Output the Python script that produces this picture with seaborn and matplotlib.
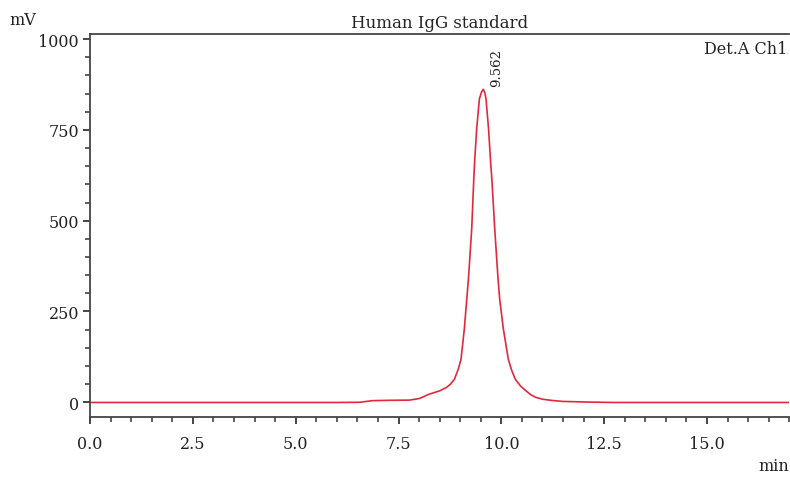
import matplotlib
matplotlib.use("Agg")
import matplotlib.pyplot as plt
from matplotlib.ticker import MultipleLocator
import pandas as pd
import seaborn as sns

# chromatogram (min, mV)
time_min = [0.0, 1.0, 2.0, 3.0, 4.0, 5.0, 6.0, 6.55, 6.87, 7.3, 7.77, 8.01, 8.25, 8.5,
            8.66, 8.76, 8.86, 8.95, 9.02, 9.10, 9.16, 9.20, 9.28, 9.33, 9.35, 9.40,
            9.466, 9.52, 9.562, 9.60, 9.628, 9.69, 9.74, 9.77, 9.84, 9.92, 9.96,
            10.05, 10.17, 10.25, 10.34, 10.47, 10.6, 10.72, 10.84, 11.0, 11.2,
            11.48, 11.97, 12.7, 14.0, 15.5, 17.0]
signal_mv = [-1, -1, -1, -1, -1, -1, -1, -0.5, 4, 5, 5.5, 10, 22, 31,
             40, 49, 63, 90, 118, 201, 284, 339, 477, 614, 660, 752,
             835, 855, 862, 852, 835, 752, 660, 614, 477, 339, 284,
             201, 118, 88, 63, 44, 31, 20, 13, 8, 5,
             2, 0.5, -1, -1, -1, -1]
peak_rt = 9.562
peak_height = 862

df = pd.DataFrame({"min": time_min, "mV": signal_mv})

sns.set_style("ticks")
plt.rcParams["font.family"] = ["DejaVu Serif", "Liberation Serif"]

fig = plt.figure(figsize=(7.9, 4.81), dpi=100)
ax = fig.add_axes([0.114, 0.131, 0.885, 0.796])

sns.lineplot(data=df, x="min", y="mV", ax=ax, color="#e2283c", linewidth=1.2)

ax.set_xlim(0, 17)
ax.set_ylim(-41, 1014)
ax.xaxis.set_major_locator(MultipleLocator(2.5))
ax.xaxis.set_minor_locator(MultipleLocator(0.5))
ax.yaxis.set_major_locator(MultipleLocator(250))
ax.yaxis.set_minor_locator(MultipleLocator(50))
ax.set_xticklabels([f"{v:.1f}" for v in ax.get_xticks()])
ax.set_xlim(0, 17)

axis_col = "#444444"
for side in ["left", "bottom", "top"]:
    ax.spines[side].set_color(axis_col)
    ax.spines[side].set_linewidth(1.3)
ax.spines["right"].set_visible(False)
ax.tick_params(which="major", direction="out", length=5, width=1.4, color=axis_col,
               labelsize=11.5, pad=3, labelcolor="#222222")
ax.tick_params(which="minor", direction="out", length=3.5, width=1.2, color=axis_col)
ax.tick_params(axis="x", pad=8)

ax.set_xlabel("")
ax.set_ylabel("")
ax.set_title("Human IgG standard", fontsize=12, color="#222222", pad=5)
fig.text(0.012, 0.94, "mV", fontsize=11.5, color="#222222", ha="left", va="bottom")
fig.text(0.999, 0.012, "min", fontsize=11.5, color="#222222", ha="right", va="bottom")
ax.text(0.998, 0.985, "Det.A Ch1", transform=ax.transAxes, fontsize=11.5,
        color="#222222", ha="right", va="top")
ax.annotate(f"{peak_rt:.3f}", xy=(peak_rt, peak_height), xytext=(5, 2),
            textcoords="offset points", rotation=90, fontsize=9.5,
            color="#222222", ha="left", va="bottom")

fig.savefig("out.png", dpi=100)
